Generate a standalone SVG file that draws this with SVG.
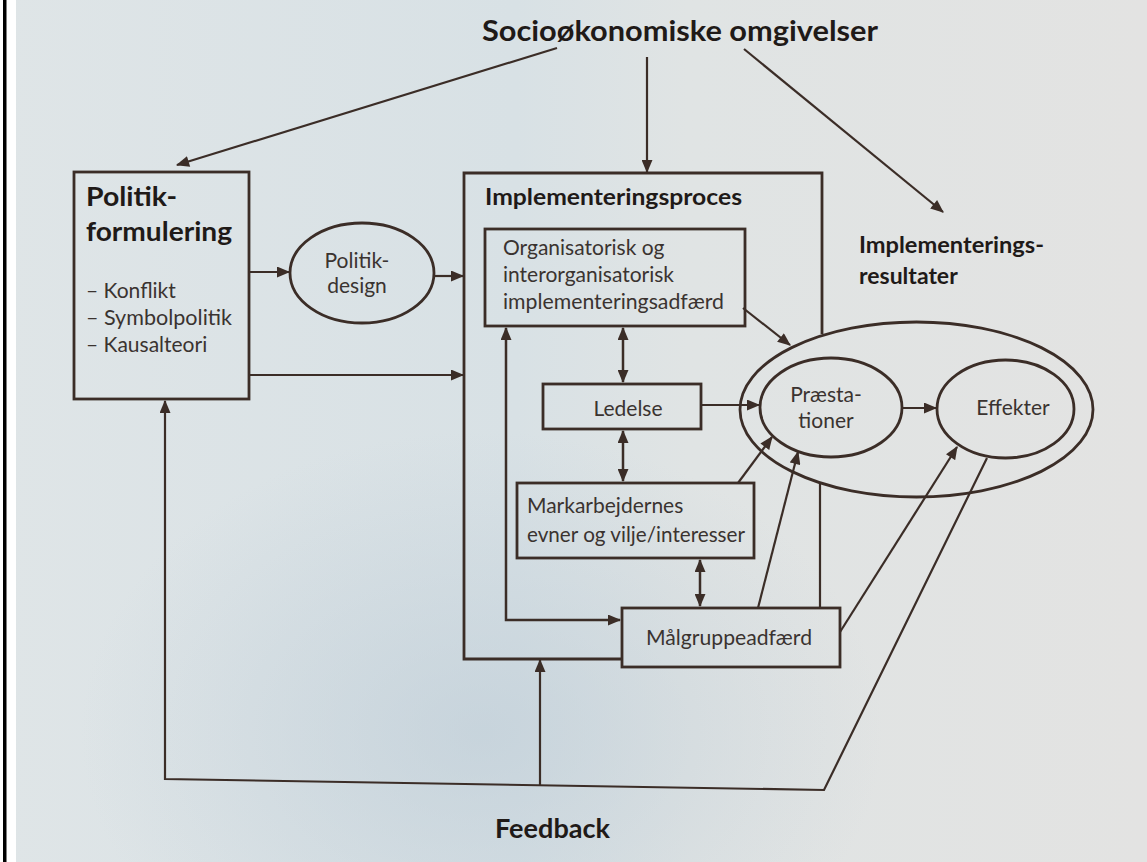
<svg xmlns="http://www.w3.org/2000/svg" width="1147" height="862" viewBox="0 0 1147 862">
<defs>
<linearGradient id="bg" x1="0" y1="0" x2="1" y2="0">
<stop offset="0" stop-color="#dfe5e7"/>
<stop offset="0.45" stop-color="#d8e1e5"/>
<stop offset="0.6" stop-color="#e0e4e4"/>
<stop offset="1" stop-color="#e3e3e2"/>
</linearGradient>
<radialGradient id="shade" cx="0.42" cy="0.85" r="0.35">
<stop offset="0" stop-color="#bccbd6" stop-opacity="0.6"/>
<stop offset="1" stop-color="#bccbd6" stop-opacity="0"/>
</radialGradient>
<marker id="ah" viewBox="0 0 12 10" refX="11" refY="5" markerWidth="14" markerHeight="11" markerUnits="userSpaceOnUse" orient="auto-start-reverse">
<path d="M0,0 L12,5 L0,10 Z" fill="#3b2d27"/>
</marker>
<style>
.ln{fill:none;stroke:#3b2d27;stroke-width:2.2}
.bx{fill:none;stroke:#3b2d27;stroke-width:2.8}
.ar{fill:none;stroke:#3b2d27;stroke-width:2.2;marker-end:url(#ah)}
.da{fill:none;stroke:#3b2d27;stroke-width:2.5;marker-end:url(#ah);marker-start:url(#ah)}
.hb{font-family:Lato,"Liberation Sans",sans-serif;font-weight:bold;fill:#1f1a18}
.tx{font-family:Lato,"Liberation Sans",sans-serif;fill:#3a3330;font-size:21px}
</style>
</defs>
<rect width="1147" height="862" fill="url(#bg)"/>
<rect width="1147" height="862" fill="url(#shade)"/>
<rect x="0" y="0" width="16" height="862" fill="#ffffff"/>
<rect x="3" y="0" width="3.5" height="862" fill="#000000"/>

<g id="title">
<text class="hb" x="482" y="41" font-size="29" textLength="396" lengthAdjust="spacingAndGlyphs">Socioøkonomiske omgivelser</text>
</g>

<g id="politikformulering">
<rect class="bx" x="74" y="172" width="175" height="227"/>
<text class="hb" x="86" y="206" font-size="27" textLength="91" lengthAdjust="spacingAndGlyphs">Politik-</text>
<text class="hb" x="86" y="241" font-size="27" textLength="146" lengthAdjust="spacingAndGlyphs">formulering</text>
<text class="tx" x="86" y="298" font-size="22">– Konflikt</text>
<text class="tx" x="86" y="325" font-size="22" textLength="146" lengthAdjust="spacingAndGlyphs">– Symbolpolitik</text>
<text class="tx" x="86" y="352" font-size="22">– Kausalteori</text>
</g>

<g id="politikdesign">
<ellipse class="bx" cx="362" cy="273" rx="72" ry="50"/>
<text class="tx" x="357" y="268" text-anchor="middle">Politik-</text>
<text class="tx" x="357" y="293" text-anchor="middle">design</text>
</g>

<g id="implementeringsproces">
<path class="bx" d="M822,334 V173 H464 V659 H622"/>
<path class="ln" d="M820,484 V608" stroke-width="2.5"/>
<text class="hb" x="485" y="205" font-size="23" textLength="257" lengthAdjust="spacingAndGlyphs">Implementeringsproces</text>
</g>

<g id="organisatorisk">
<rect class="bx" x="485" y="229" width="260" height="97"/>
<text class="tx" x="503" y="255">Organisatorisk og</text>
<text class="tx" x="503" y="282">interorganisatorisk</text>
<text class="tx" x="503" y="309" textLength="221" lengthAdjust="spacingAndGlyphs">implementeringsadfærd</text>
</g>

<g id="ledelse">
<rect class="bx" x="543" y="384" width="158" height="45"/>
<text class="tx" x="628" y="416" text-anchor="middle">Ledelse</text>
</g>

<g id="markarbejdere">
<rect class="bx" x="517" y="483" width="237" height="75"/>
<text class="tx" x="527" y="513">Markarbejdernes</text>
<text class="tx" x="527" y="542" textLength="218" lengthAdjust="spacingAndGlyphs">evner og vilje/interesser</text>
</g>

<g id="maalgruppe">
<rect class="bx" x="622" y="608" width="218" height="59"/>
<text class="tx" x="729" y="645" text-anchor="middle" textLength="166" lengthAdjust="spacingAndGlyphs">Målgruppeadfærd</text>
</g>

<g id="resultater">
<ellipse class="bx" cx="916.5" cy="409.5" rx="176.5" ry="87.5"/>
<text class="hb" x="859" y="253" font-size="23" textLength="185" lengthAdjust="spacingAndGlyphs">Implementerings-</text>
<text class="hb" x="859" y="284" font-size="23">resultater</text>
</g>

<g id="praestationer">
<ellipse class="bx" cx="831" cy="407.5" rx="71" ry="49.5"/>
<text class="tx" x="826" y="402" text-anchor="middle">Præsta-</text>
<text class="tx" x="826" y="428" text-anchor="middle">tioner</text>
</g>

<g id="effekter">
<ellipse class="bx" cx="1005.5" cy="409" rx="68.5" ry="49"/>
<text class="tx" x="1013" y="415" text-anchor="middle">Effekter</text>
</g>

<g id="feedback">
<text class="hb" x="495" y="838" font-size="26" textLength="115" lengthAdjust="spacingAndGlyphs">Feedback</text>
</g>

<g id="connectors">
<line class="ar" x1="557" y1="48" x2="177" y2="165"/>
<line class="ar" x1="647" y1="57" x2="647" y2="172"/>
<line class="ar" x1="744" y1="49" x2="943" y2="212"/>
<line class="ar" x1="249" y1="272" x2="289" y2="272"/>
<line class="ar" x1="434" y1="276" x2="463" y2="276"/>
<line class="ar" x1="249" y1="375" x2="463" y2="375"/>
<line class="da" x1="623" y1="328" x2="623" y2="382"/>
<line class="da" x1="623" y1="431" x2="623" y2="481"/>
<line class="da" x1="700" y1="560" x2="700" y2="606"/>
<path class="da" d="M506,328 V620 H620"/>
<line class="ar" x1="743" y1="308" x2="790" y2="345"/>
<line class="ar" x1="701" y1="405" x2="759" y2="405"/>
<line class="ar" x1="902" y1="408" x2="936" y2="408"/>
<line class="ar" x1="738" y1="483" x2="772" y2="437"/>
<line class="ar" x1="758" y1="608" x2="798" y2="452"/>
<line class="ar" x1="840" y1="632" x2="957" y2="447"/>
<path class="ar" d="M987,458 L824,790 L165,779 V401"/>
<line class="ar" x1="540" y1="786" x2="540" y2="660"/>
</g>
</svg>
